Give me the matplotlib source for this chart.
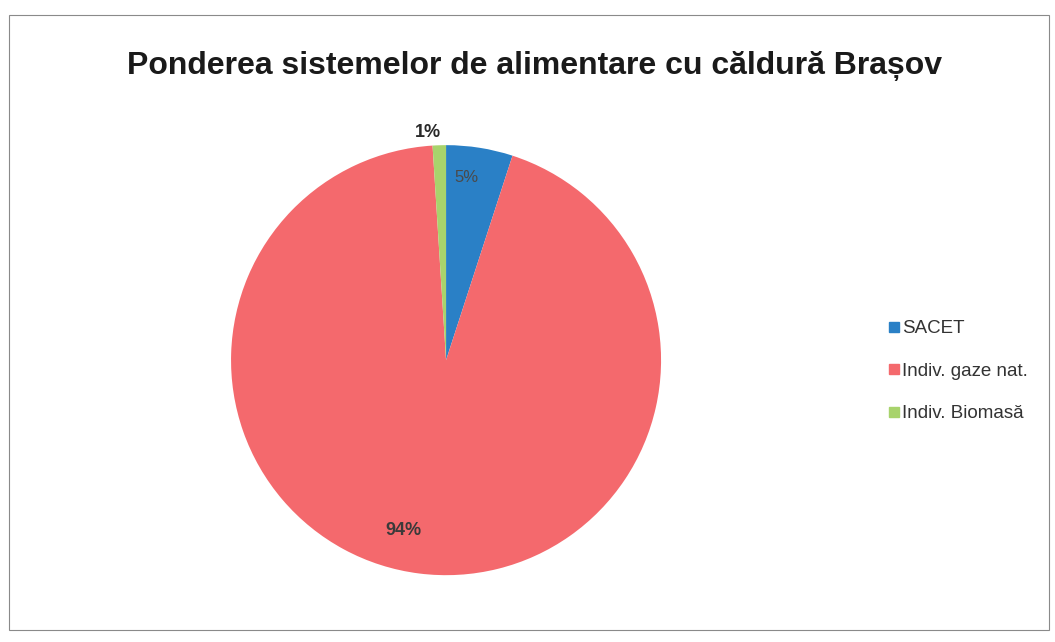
import numpy as np
import matplotlib.pyplot as plt
from matplotlib.patches import Rectangle
from matplotlib.lines import Line2D

# Data
categories = ["SACET", "Indiv. gaze nat.", "Indiv. Biomasă"]
shares = [5, 94, 1]
pct_labels = ["5%", "94%", "1%"]

colors = ["#2a80c6", "#f4696d", "#a8d36c"]
plt.rcParams['font.family'] = ['Liberation Sans Narrow', 'Liberation Sans', 'DejaVu Sans']

fig = plt.figure(figsize=(10.55, 6.42), dpi=100)
fig.patch.set_facecolor("white")

# scanned frame
fig.add_artist(Rectangle((0.009, 0.018), 0.985, 0.958, transform=fig.transFigure,
                         fill=False, edgecolor="#8a8a8a", linewidth=0.8))

fig.text(0.507, 0.897, "Ponderea sistemelor de alimentare cu căldură Brașov",
         ha="center", va="center", fontsize=23, fontweight="bold", color="#1a1a1a")

ax = fig.add_axes([0.219, 0.104, 0.4076, 0.67])
wedges, _ = ax.pie(shares, colors=colors, startangle=90, counterclock=False,
                   wedgeprops=dict(linewidth=0))
ax.set_xlim(-1, 1)
ax.set_ylim(-1, 1)
ax.set_aspect("equal")

# percentage labels
label_r = [0.86, 0.8, 1.06]
label_style = [dict(fontsize=12, color="#4a4a4a", fontweight="normal"),
               dict(fontsize=13, color="#3a3a3a", fontweight="bold"),
               dict(fontsize=13, color="#2a2a2a", fontweight="bold")]
label_shift = [-0.04, -0.1, -0.05]
for w, txt, r, st, sh in zip(wedges, pct_labels, label_r, label_style, label_shift):
    mid = np.deg2rad((w.theta1 + w.theta2) / 2)
    ax.text(r * np.cos(mid) + sh, r * np.sin(mid), txt, ha="center", va="center", **st)

handles = [Line2D([0], [0], marker="s", linestyle="none", markersize=7,
                  markerfacecolor=c, markeredgecolor=c) for c in colors]
fig.legend(handles, categories, loc="center left", bbox_to_anchor=(0.826, 0.422),
           frameon=False, fontsize=13.5, handlelength=0.6, handletextpad=0.15,
           labelspacing=1.35, labelcolor="#333333")

fig.savefig("out.png", dpi=100, facecolor="white")
